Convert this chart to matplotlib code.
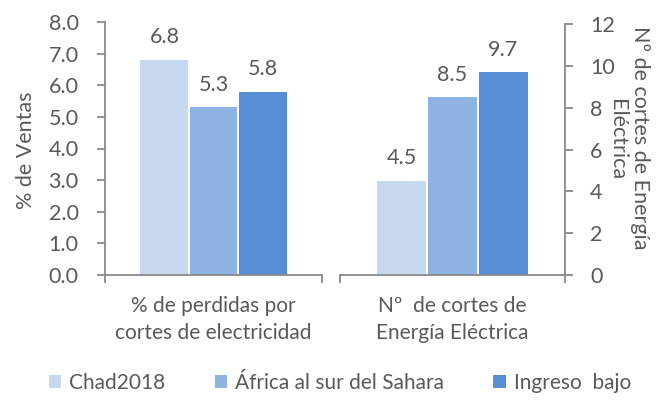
import matplotlib
matplotlib.use("Agg")
import matplotlib.pyplot as plt
from matplotlib.patches import Patch

plt.rcParams['font.family'] = ['Lato', 'DejaVu Sans']

categories = ["% de perdidas por\ncortes de electricidad", "Nº  de cortes de\nEnergía Eléctrica"]
series_names = ["Chad2018", "África al sur del Sahara", "Ingreso  bajo"]
chad = [6.8, 4.5]
africa = [5.3, 8.5]
bajo = [5.8, 9.7]
left_ticks = [0, 1, 2, 3, 4, 5, 6, 7, 8]
right_ticks = [0, 2, 4, 6, 8, 10, 12]
right_title = ["Nº de cortes de Energía", "Eléctrica"]

colors = ["#C6D9F0", "#8EB4E3", "#558ED5"]
txt = "#595959"
spine_c = "#898989"
fs = 15.5

fig = plt.figure(figsize=(6.58, 4.05), dpi=100)
axL = fig.add_axes([105/658, 1-275/405, 217/658, 253/405])
axR = fig.add_axes([340/658, 1-275/405, 225/658, 251/405])

series = [chad, africa, bajo]
offsets = [-0.226, 0.0, 0.226]

for ax, idx, width in ((axL, 0, 0.221), (axR, 1, 0.218)):
    for s, off, c in zip(series, offsets, colors):
        bars = ax.bar([off], [s[idx]], width=width, color=c, edgecolor="none")
        ax.bar_label(bars, labels=[f"{s[idx]:.1f}"], padding=9, fontsize=fs, color=txt)
    ax.set_xlim(-0.5, 0.5)
    ax.set_xticks([-0.5, 0.5])
    ax.set_xticklabels([])
    ax.set_xticks([0], labels=[categories[idx]], minor=True)
    ax.tick_params(axis='x', which='major', direction='out', length=6, width=1.3, color=spine_c)
    ax.tick_params(axis='x', which='minor', length=0, pad=15, labelsize=fs - 0.5, labelcolor=txt)
    for lab in ax.get_xticklabels(minor=True):
        lab.set_linespacing(1.42)
    ax.spines['top'].set_visible(False)
    ax.spines['bottom'].set_color(spine_c)
    ax.spines['bottom'].set_linewidth(1.3)

# left axis
axL.set_ylim(0, 8)
axL.set_yticks(left_ticks)
axL.set_yticklabels([f"{v:.1f}" for v in left_ticks])
axL.spines['right'].set_visible(False)
axL.spines['left'].set_color(spine_c)
axL.spines['left'].set_linewidth(1.3)
axL.tick_params(axis='y', direction='out', length=6, width=1.3, color=spine_c,
                labelsize=fs, labelcolor=txt, pad=13)
fig.text(26/658, 1-150/405, "% de Ventas", fontsize=fs, color=txt,
         rotation=90, ha='center', va='center')

# right axis
axR.set_ylim(0, 12)
axR.set_yticks(right_ticks)
axR.spines['left'].set_visible(False)
axR.spines['right'].set_color(spine_c)
axR.spines['right'].set_linewidth(1.3)
axR.yaxis.tick_right()
axR.tick_params(axis='y', direction='out', length=6, width=1.3, color=spine_c,
                labelsize=fs, labelcolor=txt, pad=12)
fig.text(640/658, 1-138/405, right_title[0], fontsize=fs, color=txt,
         rotation=270, ha='center', va='center')
fig.text(617/658, 1-140/405, right_title[1], fontsize=fs, color=txt,
         rotation=270, ha='center', va='center')

handles = [Patch(facecolor=c, edgecolor="none") for c in colors]
fig.legend(handles, series_names, loc='center', bbox_to_anchor=(340/658, 1-383/405),
           ncol=3, frameon=False, fontsize=fs - 0.5, labelcolor=txt,
           handlelength=0.6, handleheight=0.6, handletextpad=0.4, columnspacing=2.35)

fig.savefig("out.png", dpi=100, facecolor="white")
